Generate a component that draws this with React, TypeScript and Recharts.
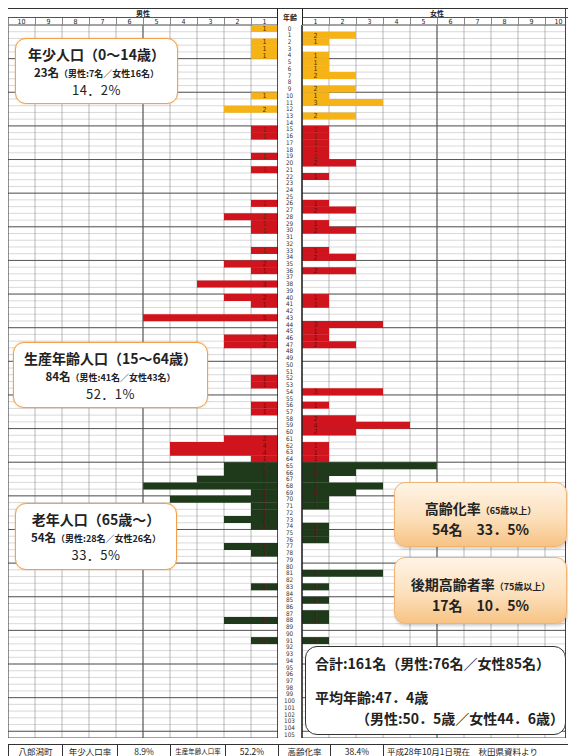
import React from 'react';
import { BarChart, Bar, XAxis, YAxis, CartesianGrid, Cell, LabelList, ReferenceLine } from 'recharts';

// 年齢 0〜105 (categories)
const ages: number[] = Array.from({ length: 106 }, (_, i) => i);
const colNums = [1, 2, 3, 4, 5, 6, 7, 8, 9, 10];
const gridCols = [0, 1, 2, 3, 4, 5, 6, 7, 8, 9, 10];

// 男性 (人数 per age 0..105)
const maleCounts = [
  1, 0, 1, 1, 1, 0, 0, 0, 0, 0,
  1, 0, 2, 0, 0, 1, 1, 0, 0, 1,
  0, 1, 0, 0, 0, 0, 1, 0, 2, 1,
  1, 0, 0, 1, 0, 2, 1, 0, 3, 0,
  2, 1, 0, 5, 0, 0, 2, 2, 0, 0,
  0, 0, 1, 1, 0, 0, 1, 1, 0, 0,
  0, 2, 4, 4, 1, 2, 2, 3, 5, 1,
  4, 1, 1, 2, 1, 0, 0, 2, 1, 0,
  0, 0, 0, 1, 0, 0, 0, 0, 2, 0,
  0, 1, 0, 0, 0, 0, 0, 0, 0, 0,
  0, 0, 0, 0, 0, 0,
];

// 女性
const femaleCounts = [
  0, 2, 1, 0, 1, 1, 1, 2, 0, 2,
  1, 3, 0, 2, 0, 1, 1, 1, 1, 1,
  2, 0, 1, 0, 0, 0, 1, 2, 0, 1,
  2, 0, 0, 1, 2, 0, 2, 0, 0, 0,
  1, 1, 0, 0, 3, 1, 1, 2, 0, 0,
  0, 0, 0, 0, 3, 0, 1, 0, 2, 4,
  2, 0, 1, 1, 1, 5, 2, 1, 3, 2,
  1, 1, 0, 0, 1, 1, 1, 0, 0, 0,
  0, 3, 0, 1, 0, 1, 0, 1, 1, 0,
  0, 1, 0, 0, 0, 0, 0, 0, 0, 0,
  0, 0, 0, 0, 0, 0,
];

const bottomCells = [
  { text: '八郎潟町', w: 54 },
  { text: '年少人口率', w: 55 },
  { text: '8.9%', w: 53 },
  { text: '生産年齢人口率', w: 55, fs: 6.5 },
  { text: '52.2%', w: 53 },
  { text: '高齢化率', w: 52 },
  { text: '38.4%', w: 53 },
  { text: '平成28年10月1日現在　秋田県資料より', w: 190, left: true },
];

const data = ages.map((age, i) => ({ age, male: maleCounts[i], female: femaleCounts[i] }));

const YOUTH = '#F6B318';
const WORK = '#D0141D';
const ELDER = '#1E3A1B';
const groupColor = (age: number) => (age < 15 ? YOUTH : age < 65 ? WORK : ELDER);
const labelColor = (age: number) => (age < 15 ? '#4a3200' : age < 65 ? '#6e0b10' : 'transparent');

const PANEL_W = 270;
const COL_W = PANEL_W / colNums.length;
const AGE_W = 25;
const CJK = '"Noto Sans CJK JP", "Noto Sans", sans-serif';
const NUM = '"DejaVu Sans Condensed", "Liberation Sans Narrow", "Liberation Sans", sans-serif';

// row boundaries (band edges of the category axis)
const rowEdges = (pick: (a: number) => boolean) => (args: any) => {
  const { yAxis, offset } = args || {};
  const s = yAxis && yAxis.scale;
  const out: number[] = [];
  if (typeof s === 'function' && typeof s.bandwidth === 'function') {
    const bw = s.bandwidth();
    ages.forEach((a) => {
      if (pick(a)) out.push(s(a));
    });
    out.push(s(ages[ages.length - 1]) + bw);
    return out;
  }
  const h = offset.height / ages.length;
  ages.forEach((a, i) => {
    if (pick(a)) out.push(offset.top + i * h);
  });
  out.push(offset.top + offset.height);
  return out;
};

const makeLabel = (side: 'male' | 'female') => (p: any) => {
  const vb = p.viewBox || p;
  const value = Number(p.value);
  if (!value) return null;
  const x = Number(vb.x);
  const w = Number(vb.width);
  const y = Number(vb.y);
  const h = Number(vb.height);
  const col = Math.abs(w) / value;
  const zero = side === 'male' ? Math.max(x, x + w) : Math.min(x, x + w);
  const cx = side === 'male' ? zero - col / 2 : zero + col / 2;
  const age = data[p.index] ? data[p.index].age : 0;
  return (
    <text x={cx} y={y + h / 2 + 2.4} textAnchor="middle" fontSize={7} fontFamily={NUM} fill={labelColor(age)}>
      {value}
    </text>
  );
};

// header number sits in the middle of the column ending at tick v
const makeColTick = (dir: number) => (p: any) => {
  const v = p.payload.value;
  if (!v) return <g />;
  return (
    <text x={p.x + (dir * COL_W) / 2} y={p.y - 0.5} textAnchor="middle" fontSize={7} fontFamily={NUM} fill="#222">
      {v}
    </text>
  );
};
const MaleColTick = makeColTick(1);
const FemaleColTick = makeColTick(-1);

const AgeTick = (p: any) => (
  <text x={p.x - AGE_W / 2} y={p.y + 2.2} textAnchor="middle" fontSize={6.3} fontFamily={NUM} fill="#333">
    {p.payload.value}
  </text>
);

function HeaderPanel({ left, title }: { left: number; title: string }) {
  return (
    <div style={{ position: 'absolute', left, top: 8, width: PANEL_W, height: 17, borderTop: '1px solid #333', boxSizing: 'border-box' }}>
      <div style={{ height: 8, lineHeight: '8px', textAlign: 'center', fontSize: 7, fontWeight: 700, fontFamily: CJK, color: '#222' }}>{title}</div>
      <div style={{ display: 'flex', height: 8, borderTop: '1px solid #555' }}>
        {colNums.map((n) => (
          <div key={n} style={{ flex: 1, borderLeft: '1px solid #888' }} />
        ))}
      </div>
    </div>
  );
}

const boxWhite: React.CSSProperties = {
  position: 'absolute',
  background: '#fff',
  border: '1.5px solid #EFA24C',
  borderRadius: 11,
  boxSizing: 'border-box',
  textAlign: 'center',
  fontFamily: CJK,
  color: '#222',
  boxShadow: '0 0 2px rgba(240,160,70,0.6)',
};

const boxOrange: React.CSSProperties = {
  position: 'absolute',
  background: 'linear-gradient(#FFF4E6, #FCE0BC 55%, #F7C384)',
  border: '1px solid #F0B474',
  borderRadius: 11,
  boxSizing: 'border-box',
  textAlign: 'center',
  fontFamily: CJK,
  color: '#222',
  boxShadow: '1px 2px 3px rgba(0,0,0,0.18)',
};

function GroupBox({ left, top, width, height, title, count, detail, pct }: any) {
  return (
    <div style={{ ...boxWhite, left, top, width, height }}>
      <div style={{ fontSize: 14, fontWeight: 700, marginTop: 6, lineHeight: '18px' }}>{title}</div>
      <div style={{ fontWeight: 700, lineHeight: '15px' }}>
        <span style={{ fontSize: 11.5 }}>{count}</span>
        <span style={{ fontSize: 9 }}>{detail}</span>
      </div>
      <div style={{ fontSize: 13, lineHeight: '18px', letterSpacing: 0.5 }}>{pct}</div>
    </div>
  );
}

export default function App() {
  return (
    <div style={{ position: 'absolute', left: 0, top: 0, width: 568, height: 756, overflow: 'hidden', background: '#fff' }}>
      {/* 男性 */}
      <div style={{ position: 'absolute', left: 8, top: 8 }}>
        <BarChart layout="vertical" width={PANEL_W} height={730} data={data} margin={{ top: 8, right: 0, bottom: 0, left: 0 }} barCategoryGap={0}>
          <CartesianGrid stroke="#c9c9c9" strokeWidth={0.7} vertical={false} horizontalCoordinatesGenerator={rowEdges(() => true)} />
          <CartesianGrid stroke="#8a8a8a" strokeWidth={0.6} horizontal={false} />
          <CartesianGrid stroke="#4a4a4a" strokeWidth={0.9} vertical={false} horizontalCoordinatesGenerator={rowEdges((a) => a % 5 === 0)} />
          <XAxis type="number" domain={[0, 10]} reversed orientation="top" height={9} ticks={gridCols} interval={0} axisLine={false} tickLine={false} tickSize={0} tickMargin={1} tick={<MaleColTick />} />
          <YAxis type="category" dataKey="age" hide />
          <ReferenceLine x={5} stroke="#555" strokeWidth={1} />
          <ReferenceLine x={0} stroke="#222" strokeWidth={1.5} />
          <ReferenceLine x={10} stroke="#444" strokeWidth={1} />
          <Bar dataKey="male" isAnimationActive={false}>
            {data.map((d) => (
              <Cell key={d.age} fill={groupColor(d.age)} />
            ))}
            <LabelList dataKey="male" content={makeLabel('male')} />
          </Bar>
        </BarChart>
      </div>

      {/* 年齢 + 女性 */}
      <div style={{ position: 'absolute', left: 277, top: 8, width: 289, height: 730, overflow: 'hidden' }}>
        <BarChart layout="vertical" width={AGE_W + PANEL_W} height={730} data={data} margin={{ top: 8, right: 0, bottom: 0, left: 0 }} barCategoryGap={0}>
          <CartesianGrid stroke="#c9c9c9" strokeWidth={0.7} vertical={false} horizontalCoordinatesGenerator={rowEdges(() => true)} />
          <CartesianGrid stroke="#8a8a8a" strokeWidth={0.6} horizontal={false} />
          <CartesianGrid stroke="#4a4a4a" strokeWidth={0.9} vertical={false} horizontalCoordinatesGenerator={rowEdges((a) => a % 5 === 0)} />
          <XAxis type="number" domain={[0, 10]} orientation="top" height={9} ticks={gridCols} interval={0} axisLine={false} tickLine={false} tickSize={0} tickMargin={1} tick={<FemaleColTick />} />
          <YAxis type="category" dataKey="age" width={AGE_W} interval={0} tickLine={false} tickSize={0} tickMargin={0} axisLine={{ stroke: '#222', strokeWidth: 1.5 }} tick={<AgeTick />} />
          <ReferenceLine x={5} stroke="#555" strokeWidth={1} />
          <Bar dataKey="female" isAnimationActive={false}>
            {data.map((d) => (
              <Cell key={d.age} fill={groupColor(d.age)} />
            ))}
            <LabelList dataKey="female" content={makeLabel('female')} />
          </Bar>
        </BarChart>
      </div>
      <div style={{ position: 'absolute', left: 565, top: 8, width: 1, height: 730, background: '#444' }} />

      {/* headers */}
      <HeaderPanel left={8} title="男性" />
      <HeaderPanel left={302} title="女性" />
      <div style={{ position: 'absolute', left: 277, top: 8, width: 26, height: 17, borderTop: '1px solid #333', borderLeft: '1.5px solid #222', borderRight: '1.5px solid #222', boxSizing: 'border-box', fontFamily: CJK, fontSize: 7, fontWeight: 700, textAlign: 'center', lineHeight: '17px', color: '#222' }}>
        年齢
      </div>

      {/* callouts */}
      <GroupBox left={15} top={38} width={163} height={66} title="年少人口（0～14歳）" count="23名" detail="（男性:7名／女性16名）" pct="14．2%" />
      <GroupBox left={13} top={342} width={195} height={66} title="生産年齢人口（15～64歳）" count="84名" detail="（男性:41名／女性43名）" pct="52．1%" />
      <GroupBox left={15} top={503} width={162} height={67} title="老年人口（65歳～）" count="54名" detail="（男性:28名／女性26名）" pct="33．5%" />

      <div style={{ ...boxOrange, left: 394, top: 482, width: 173, height: 65 }}>
        <div style={{ marginTop: 15, lineHeight: '18px', fontWeight: 700 }}>
          <span style={{ fontSize: 14 }}>高齢化率</span>
          <span style={{ fontSize: 9 }}>（65歳以上）</span>
        </div>
        <div style={{ fontSize: 14, fontWeight: 700, lineHeight: '18px' }}>54名　33．5%</div>
      </div>
      <div style={{ ...boxOrange, left: 394, top: 557, width: 173, height: 67 }}>
        <div style={{ marginTop: 16, lineHeight: '18px', fontWeight: 700 }}>
          <span style={{ fontSize: 14 }}>後期高齢者率</span>
          <span style={{ fontSize: 9 }}>（75歳以上）</span>
        </div>
        <div style={{ fontSize: 14, fontWeight: 700, lineHeight: '18px' }}>17名　10．5%</div>
      </div>

      <div style={{ position: 'absolute', left: 305, top: 646, width: 261, height: 89, background: '#fff', border: '1.5px solid #333', borderRadius: 12, boxSizing: 'border-box', fontFamily: CJK, color: '#222', fontWeight: 700 }}>
        <div style={{ position: 'absolute', left: 9, top: 6, fontSize: 14, whiteSpace: 'nowrap' }}>合計:161名（男性:76名／女性85名）</div>
        <div style={{ position: 'absolute', left: 9, top: 40, fontSize: 14, whiteSpace: 'nowrap' }}>平均年齢:47．4歳</div>
        <div style={{ position: 'absolute', left: 50, top: 61, fontSize: 14, whiteSpace: 'nowrap' }}>（男性:50．5歳／女性44．6歳）</div>
      </div>

      {/* bottom table */}
      <div style={{ position: 'absolute', left: 8, top: 744, display: 'flex', height: 16, borderTop: '1px solid #333', fontFamily: CJK, fontSize: 8.5, color: '#222' }}>
        {bottomCells.map((c, i) => (
          <div key={i} style={{ width: c.w, borderLeft: '1px solid #333', boxSizing: 'border-box', textAlign: c.left ? 'left' : 'center', paddingLeft: c.left ? 3 : 0, fontSize: c.fs || 8.5, lineHeight: '13px', whiteSpace: 'nowrap' }}>
            {c.text}
          </div>
        ))}
      </div>
    </div>
  );
}
